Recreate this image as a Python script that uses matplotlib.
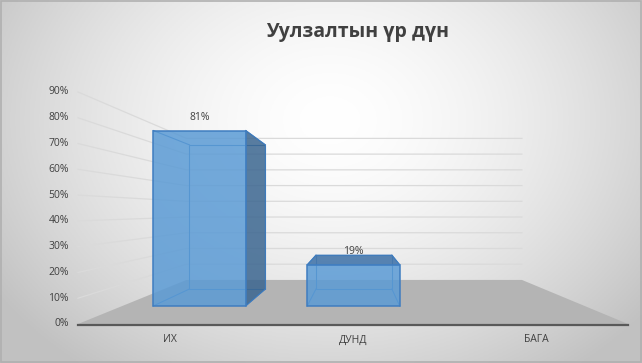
import numpy as np
import matplotlib
matplotlib.use("Agg")
import matplotlib.pyplot as plt
from matplotlib.patches import Polygon

plt.rcParams['font.family'] = ['Open Sans', 'DejaVu Sans']

categories = ['ИХ', 'ДУНД', 'БАГА']
values = [0.81, 0.19, np.nan]
labels = ['81%', '19%', '']
ticks = [0.0, 0.1, 0.2, 0.3, 0.4, 0.5, 0.6, 0.7, 0.8, 0.9]
title = 'Уулзалтын үр дүн'

# perspective layout (pixels of the 642x363 canvas)
X0, X1 = 78, 628        # front edge of the floor
Y0 = 324                # floor front y
UNIT = 257.8            # px per 100% at front plane
VX, VY = 356, 211       # vanishing point
S_WALL, S_BF, S_BB = 0.61, 0.84, 0.69
BAR_FRAC = 0.6

def proj(xf, v, s):
    yf = Y0 - v * UNIT
    return (VX + (xf - VX) * s, VY + (yf - VY) * s)

fig = plt.figure(figsize=(6.42, 3.63), dpi=100)
ax = fig.add_axes([0, 0, 1, 1])
ax.set_xlim(0, 642)
ax.set_ylim(363, 0)
ax.axis('off')

# radial gradient background
gx, gy = np.meshgrid(np.linspace(0, 642, 321), np.linspace(0, 363, 182))
r = np.sqrt(((gx - 330) / 420) ** 2 + ((gy - 120) / 330) ** 2)
g = np.clip(1.0 - 0.26 * r ** 1.6, 0.76, 1.0)
ax.imshow(np.dstack([g, g, g]), extent=(0, 642, 363, 0), aspect='auto', zorder=0)
ax.add_patch(plt.Rectangle((0.5, 0.5), 640.5, 361.5, fill=False, ec='#b0b0b0', lw=1.2, zorder=1))

# floor
floor = [proj(X0, 0, 1), proj(X1, 0, 1), proj(X1, 0, S_WALL), proj(X0, 0, S_WALL)]
ax.add_patch(Polygon(floor, closed=True, fc='#b4b4b4', ec='none', zorder=2))
ax.plot([X0, X1], [Y0 + 1, Y0 + 1], color='#595959', lw=1.6, zorder=3)

# gridlines on side wall and back wall
for t in ticks[1:]:
    a = proj(X0, t, 1)
    b = proj(X0, t, S_WALL)
    c = proj(X1, t, S_WALL)
    ax.plot([a[0], b[0], c[0]], [a[1], b[1], c[1]], color='#dadada', lw=0.9, zorder=2)

for t in ticks:
    ax.text(69, Y0 - t * UNIT, f'{int(round(t * 100))}%', ha='right', va='center',
            fontsize=7.5, color='#404040', zorder=5)

cw = (X1 - X0) / len(categories)
face = '#5b9bd5'
edge = '#3f7dc0'
for i, (cat, v, lab) in enumerate(zip(categories, values, labels)):
    cx = X0 + cw * (i + 0.5)
    ax.text(cx, 340, cat, ha='center', va='center', fontsize=7.5, color='#404040', zorder=5)
    if np.isnan(v):
        continue
    xl, xr = cx - cw * BAR_FRAC / 2, cx + cw * BAR_FRAC / 2
    f = [proj(xl, 0, S_BF), proj(xr, 0, S_BF), proj(xr, v, S_BF), proj(xl, v, S_BF)]
    bk = [proj(xl, 0, S_BB), proj(xr, 0, S_BB), proj(xr, v, S_BB), proj(xl, v, S_BB)]
    # hidden edges seen through the transparent bar
    ax.add_patch(Polygon(bk, closed=True, fill=False, ec=edge, lw=0.8, zorder=4))
    for p, q in zip(f, bk):
        ax.plot([p[0], q[0]], [p[1], q[1]], color=edge, lw=0.8, zorder=4)
    # visible side / top faces
    if xr < VX:
        side = [f[1], bk[1], bk[2], f[2]]
        ax.add_patch(Polygon(side, closed=True, fc='#3b6690', ec=edge, lw=0.8,
                             alpha=0.85, zorder=5))
    if Y0 - v * UNIT > VY:
        top = [f[3], f[2], bk[2], bk[3]]
        ax.add_patch(Polygon(top, closed=True, fc='#4677ab', ec=edge, lw=0.8,
                             alpha=0.9, zorder=5))
    ax.add_patch(Polygon(f, closed=True, fc=face, ec='none', alpha=0.85, zorder=6))
    ax.add_patch(Polygon(f, closed=True, fill=False, ec=edge, lw=1.1, zorder=6))
    ax.text((f[0][0] + f[1][0]) / 2, f[3][1] - 13, lab, ha='center', va='center',
            fontsize=7.5, color='#404040', zorder=7)

ax.text(358, 32, title, ha='center', va='center', fontsize=14, fontweight='bold',
        color='#404040', zorder=5)

fig.savefig('out.png', dpi=100)
